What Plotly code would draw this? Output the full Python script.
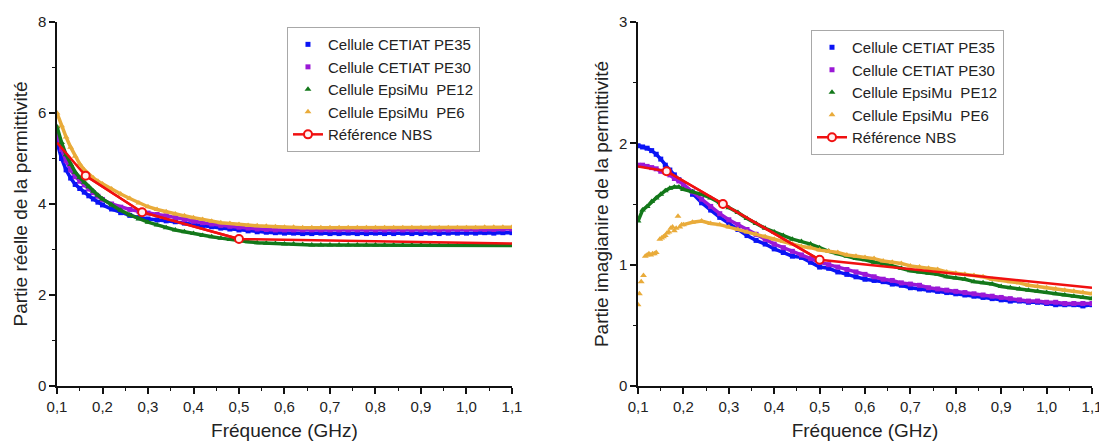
import plotly.graph_objects as go

# ---------------- data ----------------
freq = [0.10, 0.11, 0.12, 0.13, 0.14, 0.15, 0.16, 0.17, 0.18, 0.19, 0.20,
        0.22, 0.24, 0.26, 0.28, 0.30, 0.32, 0.34, 0.36, 0.38, 0.40,
        0.42, 0.44, 0.46, 0.48, 0.50, 0.52, 0.54, 0.56, 0.58, 0.60,
        0.62, 0.64, 0.66, 0.68, 0.70, 0.72, 0.74, 0.76, 0.78, 0.80,
        0.82, 0.84, 0.86, 0.88, 0.90, 0.92, 0.94, 0.96, 0.98, 1.00,
        1.02, 1.04, 1.06, 1.08, 1.10]

pe35_real = [5.35, 5.00, 4.75, 4.57, 4.43, 4.34, 4.26, 4.18, 4.11, 4.04, 3.98,
             3.89, 3.81, 3.75, 3.70, 3.67, 3.65, 3.63, 3.61, 3.58, 3.55,
             3.53, 3.50, 3.47, 3.45, 3.43, 3.41, 3.39, 3.38, 3.37, 3.36,
             3.36, 3.35, 3.35, 3.36, 3.35, 3.35, 3.36, 3.35, 3.35, 3.36,
             3.35, 3.35, 3.36, 3.35, 3.35, 3.36, 3.35, 3.36, 3.36, 3.36,
             3.36, 3.37, 3.36, 3.37, 3.37]
pe30_real = [5.55, 5.20, 4.95, 4.75, 4.60, 4.50, 4.42, 4.33, 4.25, 4.17, 4.10,
             4.00, 3.93, 3.88, 3.84, 3.80, 3.77, 3.74, 3.70, 3.66, 3.62,
             3.59, 3.56, 3.53, 3.51, 3.49, 3.47, 3.45, 3.44, 3.43, 3.43,
             3.43, 3.43, 3.43, 3.43, 3.43, 3.43, 3.43, 3.43, 3.43, 3.43,
             3.43, 3.43, 3.43, 3.43, 3.43, 3.43, 3.43, 3.43, 3.44, 3.44,
             3.44, 3.44, 3.44, 3.45, 3.45]
pe12_real = [5.70, 5.35, 5.08, 4.87, 4.70, 4.58, 4.48, 4.38, 4.28, 4.19, 4.11,
             3.98, 3.86, 3.76, 3.67, 3.60, 3.54, 3.48, 3.43, 3.39, 3.35,
             3.31, 3.28, 3.25, 3.22, 3.19, 3.17, 3.15, 3.14, 3.13, 3.12,
             3.12, 3.11, 3.10, 3.10, 3.10, 3.10, 3.10, 3.10, 3.10, 3.10,
             3.10, 3.10, 3.10, 3.10, 3.10, 3.09, 3.09, 3.09, 3.09, 3.09,
             3.09, 3.09, 3.09, 3.09, 3.09]
pe6_real = [6.00, 5.72, 5.47, 5.25, 5.05, 4.88, 4.75, 4.65, 4.57, 4.50, 4.44,
            4.33, 4.22, 4.12, 4.02, 3.94, 3.88, 3.83, 3.78, 3.74, 3.70,
            3.66, 3.62, 3.59, 3.57, 3.55, 3.53, 3.52, 3.51, 3.50, 3.49,
            3.49, 3.48, 3.48, 3.48, 3.48, 3.48, 3.48, 3.48, 3.48, 3.48,
            3.48, 3.48, 3.48, 3.48, 3.48, 3.48, 3.48, 3.48, 3.48, 3.48,
            3.48, 3.49, 3.49, 3.49, 3.49]

pe35_imag = [1.98, 1.97, 1.96, 1.94, 1.91, 1.87, 1.82, 1.78, 1.74, 1.70, 1.66,
             1.58, 1.51, 1.45, 1.39, 1.34, 1.29, 1.24, 1.20, 1.17, 1.13,
             1.10, 1.07, 1.06, 1.02, 0.98, 0.97, 0.94, 0.92, 0.90, 0.88,
             0.87, 0.86, 0.84, 0.83, 0.81, 0.80, 0.79, 0.78, 0.77, 0.76,
             0.75, 0.74, 0.73, 0.72, 0.71, 0.70, 0.70, 0.69, 0.69, 0.68,
             0.67, 0.67, 0.67, 0.66, 0.67]
pe30_imag = [1.82, 1.82, 1.81, 1.80, 1.79, 1.77, 1.76, 1.74, 1.71, 1.69, 1.66,
             1.60, 1.54, 1.48, 1.42, 1.37, 1.33, 1.29, 1.25, 1.21, 1.17,
             1.14, 1.11, 1.08, 1.05, 1.02, 1.00, 0.98, 0.96, 0.94, 0.92,
             0.90, 0.88, 0.87, 0.85, 0.84, 0.83, 0.81, 0.80, 0.79, 0.78,
             0.77, 0.76, 0.75, 0.74, 0.73, 0.72, 0.71, 0.70, 0.70, 0.69,
             0.69, 0.68, 0.68, 0.68, 0.68]
pe12_imag = [1.36, 1.45, 1.48, 1.52, 1.55, 1.58, 1.61, 1.63, 1.64, 1.64, 1.62,
             1.60, 1.58, 1.55, 1.51, 1.47, 1.43, 1.38, 1.34, 1.30, 1.27,
             1.24, 1.21, 1.19, 1.17, 1.14, 1.11, 1.09, 1.07, 1.05, 1.04,
             1.02, 1.01, 0.99, 0.97, 0.95, 0.94, 0.93, 0.92, 0.90, 0.89,
             0.88, 0.86, 0.85, 0.84, 0.82, 0.81, 0.80, 0.79, 0.78, 0.77,
             0.76, 0.75, 0.74, 0.73, 0.72]
# PE6 imaginary part: scattered points at low frequency, then a band from 0.2 GHz
pe6_imag_low_freq = [0.100, 0.103, 0.107, 0.112, 0.116, 0.120, 0.124, 0.128, 0.132, 0.136, 0.140,
                     0.148, 0.152, 0.156, 0.160, 0.164, 0.168, 0.172, 0.176, 0.180, 0.184,
                     0.188, 0.192, 0.196]
pe6_imag_low = [0.67, 0.76, 0.86, 0.91, 1.07, 1.08, 1.09, 1.08, 1.09, 1.09, 1.10,
                1.21, 1.22, 1.23, 1.24, 1.26, 1.27, 1.30, 1.31, 1.28, 1.30,
                1.40, 1.31, 1.33]
pe6_imag_hi = [1.33,
               1.35, 1.36, 1.34, 1.33, 1.31, 1.29, 1.27, 1.25, 1.23, 1.21,
               1.19, 1.17, 1.15, 1.14, 1.12, 1.11, 1.10, 1.08, 1.07, 1.06,
               1.05, 1.03, 1.02, 1.01, 0.99, 0.98, 0.97, 0.96, 0.94, 0.93,
               0.92, 0.91, 0.90, 0.88, 0.87, 0.86, 0.85, 0.83, 0.82, 0.81,
               0.80, 0.79, 0.78, 0.77, 0.76]

ref_freq = [0.10, 0.163, 0.287, 0.50, 1.10]
ref_real = [5.35, 4.62, 3.82, 3.23, 3.13]
ref_imag = [1.81, 1.77, 1.50, 1.04, 0.81]

names = ["Cellule CETIAT PE35", "Cellule CETIAT PE30",
         "Cellule EpsiMu  PE12", "Cellule EpsiMu  PE6"]
ref_name = "Référence NBS"

x_ticks = [0.1, 0.2, 0.3, 0.4, 0.5, 0.6, 0.7, 0.8, 0.9, 1.0, 1.1]

# ---------------- styles ----------------
C_BLUE = "#0a14f5"
C_PURPLE = "#9a18d6"
C_GREEN = "#13781a"
C_ORANGE = "#e9ab3a"
C_RED = "#f01010"
FONT = "Liberation Sans, Arial, sans-serif"
TXT = "#222222"

fig = go.Figure()


def add_band(x, y, name, color, symbol, msize, xa, ya, legend, show=True, line=True):
    if line:
        fig.add_trace(go.Scatter(x=x, y=y, mode="lines", line=dict(color=color, width=3.5),
                                 xaxis=xa, yaxis=ya, showlegend=False, hoverinfo="skip"))
    fig.add_trace(go.Scatter(x=x, y=y, mode="markers", name=name,
                             marker=dict(color=color, symbol=symbol, size=msize, line=dict(width=0)),
                             xaxis=xa, yaxis=ya, legend=legend, showlegend=show))


def add_ref(y, xa, ya, legend):
    fig.add_trace(go.Scatter(x=ref_freq, y=y, mode="lines", line=dict(color=C_RED, width=2.5),
                             xaxis=xa, yaxis=ya, showlegend=False, hoverinfo="skip"))
    fig.add_trace(go.Scatter(x=ref_freq[1:4], y=y[1:4], mode="lines+markers", name=ref_name,
                             line=dict(color=C_RED, width=2.5),
                             marker=dict(symbol="circle", size=8, color="#fff0f0",
                                         line=dict(color=C_RED, width=2)),
                             xaxis=xa, yaxis=ya, legend=legend))


# left chart
add_band(freq, pe35_real, names[0], C_BLUE, "square", 5, "x", "y", "legend")
add_band(freq, pe30_real, names[1], C_PURPLE, "square", 5, "x", "y", "legend")
add_band(freq, pe12_real, names[2], C_GREEN, "triangle-up", 6, "x", "y", "legend")
add_band(freq, pe6_real, names[3], C_ORANGE, "triangle-up", 6, "x", "y", "legend")
add_ref(ref_real, "x", "y", "legend")

# right chart
add_band(freq, pe35_imag, names[0], C_BLUE, "square", 5, "x2", "y2", "legend2")
add_band(freq, pe30_imag, names[1], C_PURPLE, "square", 5, "x2", "y2", "legend2")
add_band(freq, pe12_imag, names[2], C_GREEN, "triangle-up", 6, "x2", "y2", "legend2")
add_band(pe6_imag_low_freq, pe6_imag_low, names[3], C_ORANGE, "triangle-up", 6, "x2", "y2",
         "legend2", show=False, line=False)
add_band(freq[10:], pe6_imag_hi, names[3], C_ORANGE, "triangle-up", 6, "x2", "y2", "legend2")
add_ref(ref_imag, "x2", "y2", "legend2")

axis_common = dict(showline=True, linecolor="#111111", linewidth=1.5, ticks="outside",
                   ticklen=6, tickwidth=1.5, tickcolor="#111111", showgrid=False,
                   zeroline=False, mirror=False, automargin=False,
                   tickfont=dict(family=FONT, size=15, color=TXT))

xaxis_common = dict(axis_common, range=[0.1, 1.1], tickvals=x_ticks, tickformat=".1f",
                    minor=dict(ticks="outside", ticklen=3, tickwidth=1, tickcolor="#111111",
                               tick0=0.05, dtick=0.1),
                    title=dict(text="Fréquence (GHz)", font=dict(family=FONT, size=19, color=TXT),
                               standoff=10))

fig.update_layout(
    width=1107, height=441,
    margin=dict(l=49, r=23, t=14, b=63),
    paper_bgcolor="white", plot_bgcolor="white",
    separators=", ",
    font=dict(family=FONT, size=15, color=TXT),
    xaxis=dict(xaxis_common, domain=[0, 0.4396], anchor="y"),
    xaxis2=dict(xaxis_common, domain=[0.5614, 1.0], anchor="y2"),
    yaxis=dict(axis_common, range=[0, 8], dtick=2,
               minor=dict(ticks="outside", ticklen=3, tickwidth=1, tickcolor="#111111", dtick=1),
               title=dict(text="Partie réelle de la permittivité",
                          font=dict(family=FONT, size=19, color=TXT), standoff=5),
               anchor="x"),
    yaxis2=dict(axis_common, range=[0, 3], dtick=1,
                minor=dict(ticks="outside", ticklen=3, tickwidth=1, tickcolor="#111111", dtick=0.5),
                title=dict(text="Partie imagianire de la permittivité",
                           font=dict(family=FONT, size=19, color=TXT), standoff=5),
                anchor="x2"),
    legend=dict(x=0.2222, y=0.986, xanchor="left", yanchor="top",
                bordercolor="#a8a8a8", borderwidth=1, bgcolor="white",
                font=dict(family=FONT, size=15, color=TXT), tracegroupgap=0),
    legend2=dict(x=0.7285, y=0.978, xanchor="left", yanchor="top",
                 bordercolor="#a8a8a8", borderwidth=1, bgcolor="white",
                 font=dict(family=FONT, size=15, color=TXT), tracegroupgap=0),
)

fig.write_html("out.html")
